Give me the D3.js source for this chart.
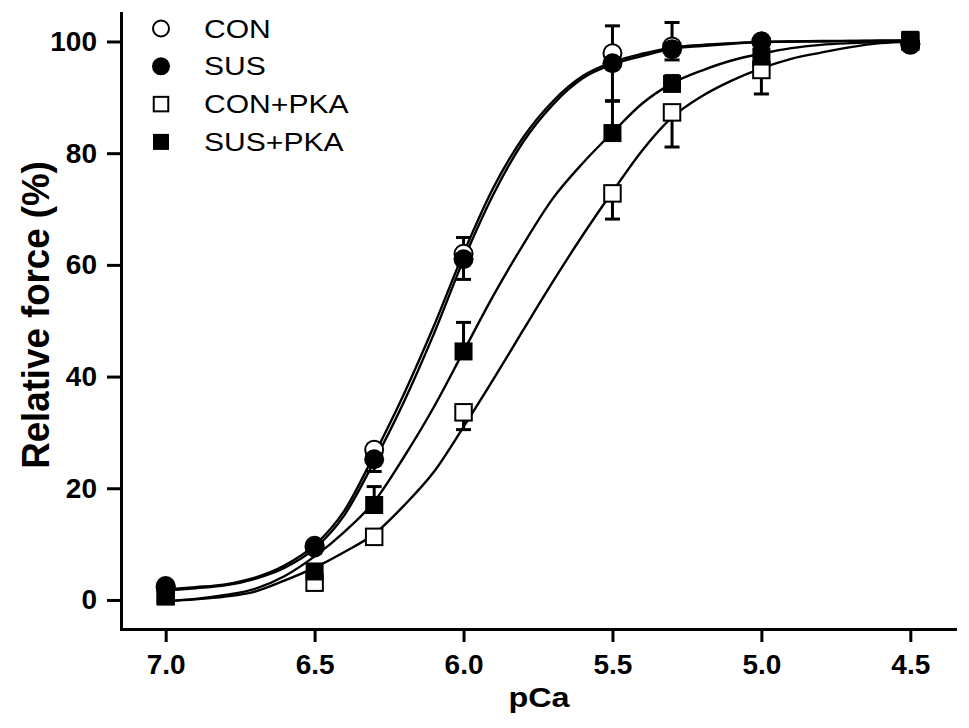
<!DOCTYPE html>
<html>
<head>
<meta charset="utf-8">
<script src="https://cdn.jsdelivr.net/npm/d3@7"></script>
<style>
  body { margin: 0; background: #fff; }
  text { font-family: "Liberation Sans", Arial, sans-serif; }
</style>
</head>
<body>
<svg width="969" height="728"></svg>
<script>
// measured points
const pCa = [7.0, 6.5, 6.3, 6.0, 5.5, 5.3, 5.0, 4.5];
const conForce = [2.2, 9.7, 26.9, 62.0, 97.9, 99.1, 100.0, 99.6];
const conErr = [0.5, 0.8, 1.0, 2.9, 4.9, 4.3, 0.5, 0.3];
const susForce = [2.5, 9.4, 25.2, 61.0, 96.1, 98.6, 100.0, 99.4];
const susErr = [0.5, 0.8, 2.2, 3.6, 6.8, 1.9, 0.5, 0.3];
const conPkaForce = [0.8, 3.1, 11.3, 33.6, 72.8, 87.3, 94.9, 100.0];
const conPkaErr = [0.3, 1.3, 1.0, 3.1, 4.6, 6.2, 4.3, 0.3];
const susPkaForce = [0.6, 5.1, 17.0, 44.5, 83.6, 92.4, 97.3, 100.3];
const susPkaErr = [0.3, 1.0, 3.3, 5.2, 5.8, 1.5, 1.5, 0.3];

// fitted curves
const fitPCa = [7.0, 6.9, 6.8, 6.7, 6.6, 6.5, 6.4, 6.3, 6.2, 6.1, 6.0, 5.9, 5.8,
                5.7, 5.6, 5.5, 5.4, 5.3, 5.2, 5.1, 5.0, 4.9, 4.8, 4.7, 4.6, 4.5];
const conFit = [1.9, 2.3, 2.8, 4.0, 6.2, 9.8, 16.0, 26.0, 36.9, 49.0, 62.1, 73.8, 82.8,
                89.3, 93.8, 96.3, 97.8, 98.9, 99.4, 99.7, 99.9, 100.0, 100.1, 100.1, 100.2, 100.2];
const susFit = [1.7, 2.1, 2.6, 3.8, 5.8, 9.2, 15.2, 24.8, 35.5, 47.6, 60.9, 72.6, 82.0,
                88.7, 93.4, 95.9, 97.4, 98.7, 99.2, 99.6, 99.9, 100.0, 100.0, 100.1, 100.1, 100.2];
const conPkaFit = [-0.2, 0.1, 0.6, 1.5, 3.5, 5.8, 8.6, 11.8, 16.9, 22.9, 31.0, 39.5, 48.3,
                   57.0, 65.3, 73.1, 80.5, 86.4, 90.2, 93.0, 95.2, 96.9, 98.0, 99.0, 99.7, 100.0];
const susPkaFit = [-0.2, 0.2, 0.9, 2.0, 4.3, 7.8, 12.2, 17.6, 25.6, 34.5, 44.5, 54.5, 63.6,
                   71.9, 78.2, 83.7, 88.9, 92.5, 94.8, 96.6, 97.8, 98.8, 99.4, 99.7, 99.9, 100.0];

const xTicks = [7.0, 6.5, 6.0, 5.5, 5.0, 4.5];
const yTicks = [0, 20, 40, 60, 80, 100];
const seriesNames = ["CON", "SUS", "CON+PKA", "SUS+PKA"];

const series = [
  { name: seriesNames[0], vals: conForce, err: conErr, dir: -1, shape: "circle", filled: false, fit: conFit },
  { name: seriesNames[2], vals: conPkaForce, err: conPkaErr, dir: 1, shape: "square", filled: false, fit: conPkaFit },
  { name: seriesNames[1], vals: susForce, err: susErr, dir: 1, shape: "circle", filled: true, fit: susFit },
  { name: seriesNames[3], vals: susPkaForce, err: susPkaErr, dir: -1, shape: "square", filled: true, fit: susPkaFit }
];

const svg = d3.select("svg");
svg.append("rect").attr("width", 969).attr("height", 728).attr("fill", "#fff");

const x = d3.scaleLinear().domain([7.15, 4.35]).range([121, 955]);
const y = d3.scaleLinear().domain([-5.2, 105.1]).range([629, 13]);

// fitted curves
const line = d3.line()
    .x(d => x(d[0]))
    .y(d => y(d[1]))
    .curve(d3.curveMonotoneX);

svg.append("g").selectAll("path")
    .data(series)
    .enter().append("path")
    .attr("d", s => line(fitPCa.map((p, i) => [p, s.fit[i]])))
    .attr("fill", "none")
    .attr("stroke", "#000")
    .attr("stroke-width", 2.4);

// error bars (one-sided)
const capW = 15;
series.forEach(s => {
  const g = svg.append("g").attr("stroke", "#000").attr("stroke-width", 3);
  pCa.forEach((p, i) => {
    const x0 = x(p);
    const y0 = y(s.vals[i]);
    const y1 = y(s.vals[i] - s.dir * s.err[i]);
    g.append("line").attr("x1", x0).attr("x2", x0).attr("y1", y0).attr("y2", y1);
    g.append("line").attr("x1", x0 - capW / 2).attr("x2", x0 + capW / 2).attr("y1", y1).attr("y2", y1);
  });
});

// markers
function drawMarker(g, shape, filled, cx, cy, size) {
  if (shape === "circle") {
    g.append("circle")
      .attr("cx", cx).attr("cy", cy)
      .attr("r", filled ? size / 2 : size / 2 - 1)
      .attr("fill", filled ? "#000" : "#fff")
      .attr("stroke", "#000")
      .attr("stroke-width", filled ? 0 : 2);
  } else {
    const s = filled ? size : size - 1.5;
    g.append("rect")
      .attr("x", cx - s / 2).attr("y", cy - s / 2)
      .attr("width", s).attr("height", s)
      .attr("fill", filled ? "#000" : "#fff")
      .attr("stroke", "#000")
      .attr("stroke-width", filled ? 0 : 2);
  }
}

series.forEach(s => {
  const g = svg.append("g");
  pCa.forEach((p, i) => {
    drawMarker(g, s.shape, s.filled, x(p), y(s.vals[i]), s.shape === "circle" ? 20 : 18);
  });
});

// axes
const xAxis = svg.append("g")
    .attr("transform", "translate(0,629)")
    .call(d3.axisBottom(x).tickValues(xTicks).tickFormat(d3.format(".1f"))
      .tickSize(13).tickPadding(12).tickSizeOuter(0));

const yAxis = svg.append("g")
    .attr("transform", "translate(121,0)")
    .call(d3.axisLeft(y).tickValues(yTicks).tickFormat(d3.format("d"))
      .tickSize(14).tickPadding(10).tickSizeOuter(0));

[xAxis, yAxis].forEach(a => {
  a.select(".domain").attr("stroke-width", 3).attr("stroke-linecap", "square");
  a.selectAll(".tick line").attr("stroke-width", 3);
  a.selectAll(".tick text")
    .attr("font-family", "'Liberation Sans', Arial, sans-serif")
    .attr("font-size", 28)
    .attr("font-weight", "bold")
    .attr("fill", "#000");
});

// axis titles
svg.append("g")
    .attr("transform", "translate(539,707) scale(1.2,1)")
    .append("text")
    .attr("text-anchor", "middle")
    .attr("font-size", 27)
    .attr("font-weight", "bold")
    .text("pCa");

svg.append("text")
    .attr("transform", "translate(49,315) rotate(-90) scale(0.94,1)")
    .attr("text-anchor", "middle")
    .attr("font-size", 39)
    .attr("font-weight", "bold")
    .text("Relative force (%)");

// legend
const legendOrder = [
  { name: seriesNames[0], shape: "circle", filled: false },
  { name: seriesNames[1], shape: "circle", filled: true },
  { name: seriesNames[2], shape: "square", filled: false },
  { name: seriesNames[3], shape: "square", filled: true }
];
const legend = svg.append("g");
legendOrder.forEach((d, i) => {
  const ly = 28.5 + i * 37.8;
  drawMarker(legend, d.shape, d.filled, 161, ly, d.shape === "circle" ? 18 : 16);
  legend.append("g")
    .attr("transform", `translate(204,${ly}) scale(1.18,1)`)
    .append("text")
    .attr("dy", "0.36em")
    .attr("font-size", 25.5)
    .text(d.name);
});
</script>
</body>
</html>
